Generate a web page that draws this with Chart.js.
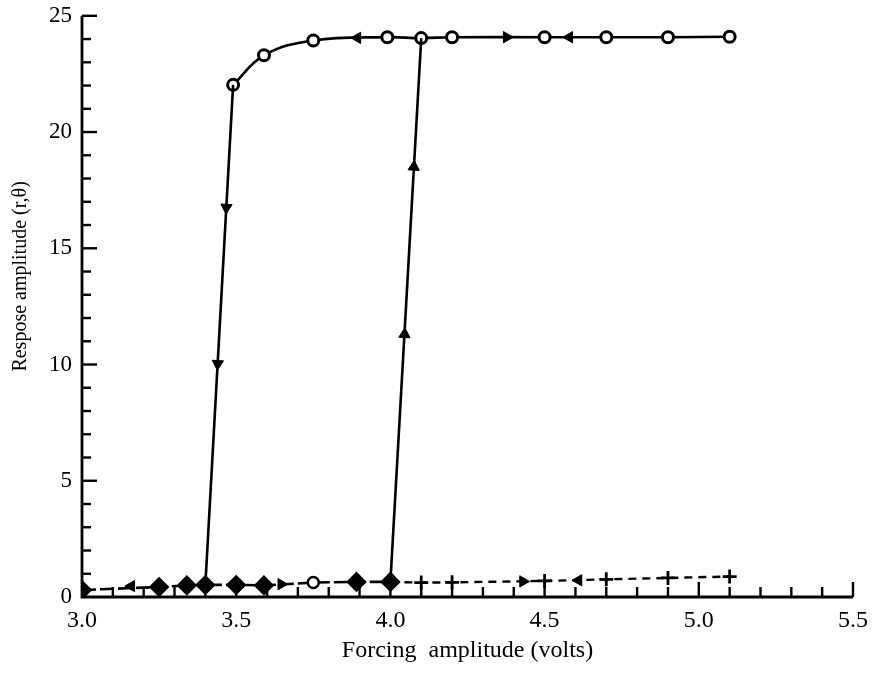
<!DOCTYPE html>
<html>
<head>
<meta charset="utf-8">
<script src="https://cdn.jsdelivr.net/npm/chart.js@4"></script>
<style>
  html, body { margin: 0; padding: 0; background: #fff; }
  #wrap { width: 879px; height: 675px; }
</style>
</head>
<body>
<div id="wrap"><canvas id="hysteresis"></canvas></div>
<script>
// Values
const xTickValues = [3.0, 3.5, 4.0, 4.5, 5.0, 5.5];
const yTickValues = [0, 5, 10, 15, 20, 25];

// upper (large response) branch, open circles
const upperX = [3.49, 3.59, 3.75, 3.99, 4.10, 4.20, 4.50, 4.70, 4.90, 5.10];
const upperY = [22.03, 23.30, 23.94, 24.08, 24.04, 24.08, 24.08, 24.08, 24.08, 24.10];

// lower branch, filled diamonds (one open circle at 3.75)
const lowerX = [3.00, 3.25, 3.34, 3.40, 3.50, 3.59, 3.75, 3.89, 4.00];
const lowerY = [0.30, 0.43, 0.50, 0.52, 0.52, 0.50, 0.62, 0.65, 0.65];

// lower branch past the jump, crosses
const crossX = [4.00, 4.10, 4.20, 4.50, 4.70, 4.90, 5.10];
const crossY = [0.65, 0.62, 0.63, 0.69, 0.76, 0.82, 0.88];

// jumps between branches
const jumpDownX = [3.49, 3.40];
const jumpDownY = [22.03, 0.52];
const jumpUpX = [4.00, 4.10];
const jumpUpY = [0.65, 24.04];

// direction arrows (angle: 0 = up, 90 = right, 180 = down, 270 = left)
const arrowX = [3.893, 4.377, 4.58, 3.468, 3.44, 4.076, 4.046, 3.16, 3.646, 4.43, 4.61];
const arrowY = [24.05, 24.08, 24.08, 16.75, 10.03, 18.5, 11.3, 0.47, 0.55, 0.67, 0.72];
const arrowAngle = [270, 90, 270, 183, 183, 3.3, 3.3, 270, 90, 90, 270];

const pts = (xs, ys) => xs.map((x, i) => ({ x: x, y: ys[i] }));

const serif = "'Liberation Serif', 'Times New Roman', serif";

// ticks drawn inside the axes, like the original
const insideTicks = {
  id: 'insideTicks',
  afterDraw(chart) {
    const { ctx, chartArea, scales } = chart;
    const x = scales.x, y = scales.y;
    ctx.save();
    ctx.strokeStyle = '#000';
    ctx.lineWidth = 2.8;
    ctx.lineCap = 'butt';
    // axis lines
    ctx.beginPath();
    ctx.moveTo(chartArea.left, chartArea.top);
    ctx.lineTo(chartArea.left, chartArea.bottom);
    ctx.lineTo(chartArea.right, chartArea.bottom);
    ctx.stroke();
    ctx.lineWidth = 2.4;
    // x ticks every 0.1
    for (let i = 1; i <= 25; i++) {
      const px = x.getPixelForValue(3 + i / 10);
      const len = i % 5 === 0 ? 15 : 10;
      ctx.beginPath();
      ctx.moveTo(px, chartArea.bottom);
      ctx.lineTo(px, chartArea.bottom - len);
      ctx.stroke();
    }
    // y ticks every 1
    for (let i = 1; i <= 25; i++) {
      const py = y.getPixelForValue(i);
      const len = i % 5 === 0 ? 15 : 9;
      ctx.beginPath();
      ctx.moveTo(chartArea.left, py);
      ctx.lineTo(chartArea.left + len, py);
      ctx.stroke();
    }
    ctx.restore();
  }
};

const ctx = document.getElementById('hysteresis').getContext('2d');
new Chart(ctx, {
  type: 'scatter',
  data: {
    datasets: [
      {
        label: 'jump down',
        data: pts(jumpDownX, jumpDownY),
        showLine: true,
        borderColor: '#000',
        borderWidth: 2.6,
        pointRadius: 0
      },
      {
        label: 'jump up',
        data: pts(jumpUpX, jumpUpY),
        showLine: true,
        borderColor: '#000',
        borderWidth: 2.6,
        pointRadius: 0
      },
      {
        label: 'lower',
        data: pts(lowerX, lowerY),
        showLine: true,
        borderColor: '#000',
        borderWidth: 2.6,
        borderDash: [14, 4],
        pointStyle: lowerX.map((v, i) => i === 6 ? 'circle' : 'rectRot'),
        pointRadius: lowerX.map((v, i) => i === 6 ? 5.5 : 8.5),
        pointBackgroundColor: lowerX.map((v, i) => i === 6 ? '#fff' : '#000'),
        pointBorderColor: '#000',
        pointBorderWidth: 2.5
      },
      {
        label: 'crosses',
        data: pts(crossX, crossY),
        showLine: true,
        borderColor: '#000',
        borderWidth: 2.4,
        borderDash: [8, 6],
        pointStyle: crossX.map((v, i) => i === 0 ? false : 'cross'),
        pointRadius: 7,
        pointBorderColor: '#000',
        pointBorderWidth: 2.8
      },
      {
        label: 'upper',
        data: pts(upperX, upperY),
        showLine: true,
        tension: 0.4,
        borderColor: '#000',
        borderWidth: 2.6,
        pointStyle: 'circle',
        pointRadius: 5.5,
        pointBackgroundColor: '#fff',
        pointBorderColor: '#000',
        pointBorderWidth: 3
      },
      {
        label: 'arrows',
        data: pts(arrowX, arrowY),
        showLine: false,
        pointStyle: 'triangle',
        rotation: arrowAngle,
        pointRadius: 6.5,
        pointBackgroundColor: '#000',
        pointBorderColor: '#000',
        pointBorderWidth: 1
      }
    ]
  },
  options: {
    responsive: true,
    maintainAspectRatio: false,
    animation: false,
    layout: { padding: { left: 0, right: 26, top: 5, bottom: 0 } },
    plugins: {
      legend: { display: false },
      tooltip: { enabled: false }
    },
    scales: {
      x: {
        type: 'linear',
        min: 3.0,
        max: 5.5,
        grid: { display: false },
        border: { display: false },
        afterFit: s => { s.height = 78; },
        afterBuildTicks: s => { s.ticks = xTickValues.map(v => ({ value: v })); },
        ticks: {
          color: '#000',
          padding: 1,
          maxRotation: 0,
          font: { family: serif, size: 24 },
          callback: v => Number(v).toFixed(1)
        },
        title: {
          display: true,
          text: 'Forcing  amplitude (volts)',
          color: '#000',
          font: { family: serif, size: 24 },
          padding: { top: 0, bottom: 10 }
        }
      },
      y: {
        type: 'linear',
        min: 0,
        max: 25,
        grid: { display: false },
        border: { display: false },
        afterFit: s => { s.width = 82; },
        afterBuildTicks: s => { s.ticks = yTickValues.map(v => ({ value: v })); },
        ticks: {
          color: '#000',
          padding: 2,
          font: { family: serif, size: 23 }
        },
        title: {
          display: true,
          text: '            Respose amplitude (r,θ)',
          color: '#000',
          font: { family: serif, size: 20 },
          padding: { top: 9, bottom: 0 }
        }
      }
    }
  },
  plugins: [insideTicks]
});
</script>
</body>
</html>
